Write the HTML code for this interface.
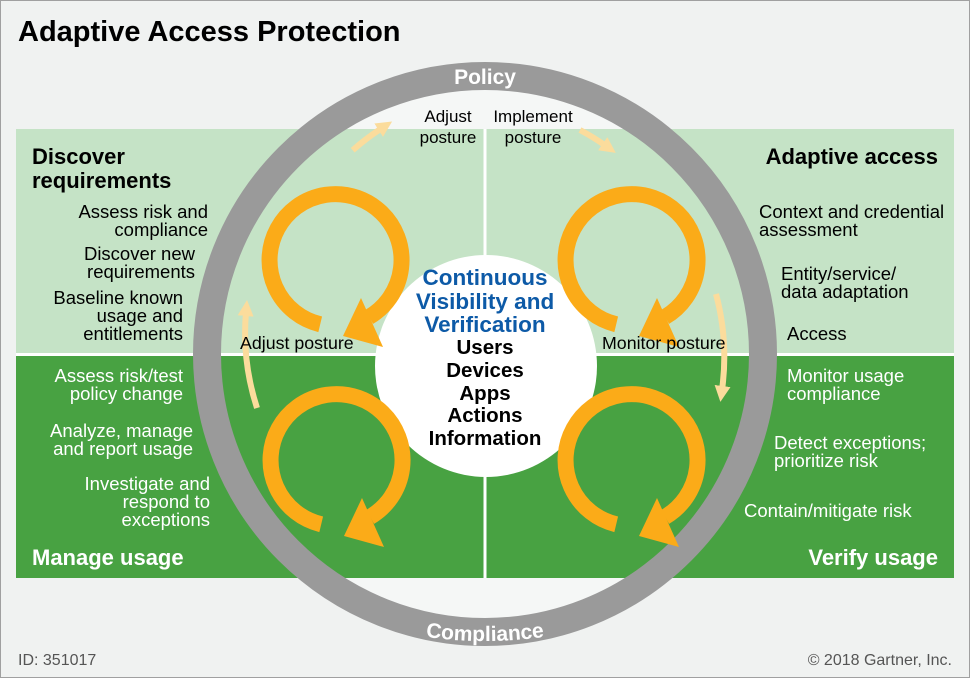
<!DOCTYPE html>
<html><head><meta charset="utf-8"><style>
html,body{margin:0;padding:0;background:#fff}
svg{display:block}
text{font-family:"Liberation Sans",Arial,sans-serif}
</style></head><body>
<svg width="970" height="678" viewBox="0 0 970 678" xmlns="http://www.w3.org/2000/svg">
<defs>
<marker id="pa" markerWidth="18" markerHeight="18" refX="4" refY="9" orient="auto" markerUnits="userSpaceOnUse">
<path d="M0,1 L16,9 L0,17 Z" fill="#fbdc9c"/>
</marker>
<path id="loop" d="M-14.8,64.3 A66,66 0 1 1 34,57" fill="none" stroke="#fbab18" stroke-width="16"/>
<g id="lp"><use href="#loop"/><path d="M8,76 L26,38 L48,87 Z" fill="#fbab18"/></g>
<path id="botArc" d="M360,622 A420,420 0 0 0 610,622"/>
</defs>
<rect x="0.5" y="0.5" width="969" height="677" fill="#f0f2f1" stroke="#a0a0a0"/>
<text x="18" y="41" font-size="29" font-weight="bold" fill="#000">Adaptive Access Protection</text>
<circle cx="485" cy="354" r="270" fill="#f5f7f6"/>
<rect x="16" y="129" width="938" height="224" fill="#c5e3c6"/>
<rect x="16" y="356" width="938" height="222" fill="#48a242"/>
<rect x="16" y="353" width="938" height="3" fill="#fff"/>
<rect x="483.5" y="129" width="3" height="449" fill="#fff"/>
<circle cx="485" cy="354" r="278" fill="none" stroke="#9a9a9a" stroke-width="28"/>
<text x="485" y="84" font-size="21" font-weight="bold" fill="#fff" text-anchor="middle">Policy</text>
<text font-size="21" font-weight="bold" fill="#fff"><textPath href="#botArc" startOffset="50%" text-anchor="middle">Compliance</textPath></text>
<circle cx="486" cy="366" r="111" fill="#fff"/>
<use href="#lp" x="335" y="260"/>
<use href="#lp" x="631" y="260"/>
<use href="#lp" x="336" y="460"/>
<use href="#lp" x="631" y="460"/>
<g fill="none" stroke="#fbdc9c" stroke-width="6">
<path d="M352.7,150.2 A243,243 0 0 1 382,128" marker-end="url(#pa)"/>
<path d="M580,130 A243,243 0 0 1 606,146" marker-end="url(#pa)"/>
<path d="M716,294 A243,243 0 0 1 722,390" marker-end="url(#pa)"/>
<path d="M257,408 A243,243 0 0 1 246,312" marker-end="url(#pa)"/>
</g>
<g font-size="17" fill="#000">
<text x="448" y="122" text-anchor="middle">Adjust</text>
<text x="448" y="143" text-anchor="middle">posture</text>
<text x="533" y="122" text-anchor="middle">Implement</text>
<text x="533" y="143" text-anchor="middle">posture</text>
<text x="240" y="349" font-size="17.8">Adjust posture</text>
<text x="602" y="349" font-size="17.8">Monitor posture</text>
</g>
<g font-size="22.5" font-weight="bold" fill="#0d5aa7" text-anchor="middle">
<text x="485" y="285">Continuous</text>
<text x="485" y="309">Visibility and</text>
<text x="485" y="332">Verification</text>
</g>
<g font-size="20.5" font-weight="bold" fill="#000" text-anchor="middle">
<text x="485" y="354">Users</text>
<text x="485" y="377">Devices</text>
<text x="485" y="400">Apps</text>
<text x="485" y="422">Actions</text>
<text x="485" y="445">Information</text>
</g>
<g font-size="22" font-weight="bold">
<text x="32" y="164">Discover</text>
<text x="32" y="188">requirements</text>
<text x="938" y="164" text-anchor="end">Adaptive access</text>
<text x="32" y="565" fill="#fff">Manage usage</text>
<text x="938" y="565" fill="#fff" text-anchor="end">Verify usage</text>
</g>
<g font-size="18.5" fill="#000" text-anchor="end">
<text x="208" y="218">Assess risk and</text>
<text x="208" y="236">compliance</text>
<text x="195" y="260">Discover new</text>
<text x="195" y="278">requirements</text>
<text x="183" y="304">Baseline known</text>
<text x="183" y="322">usage and</text>
<text x="183" y="340">entitlements</text>
</g>
<g font-size="18.5" fill="#fff" text-anchor="end">
<text x="183" y="382">Assess risk/test</text>
<text x="183" y="400">policy change</text>
<text x="193" y="437">Analyze, manage</text>
<text x="193" y="455">and report usage</text>
<text x="210" y="490">Investigate and</text>
<text x="210" y="508">respond to</text>
<text x="210" y="526">exceptions</text>
</g>
<g font-size="18.5" fill="#000">
<text x="759" y="218">Context and credential</text>
<text x="759" y="236">assessment</text>
<text x="781" y="280">Entity/service/</text>
<text x="781" y="298">data adaptation</text>
<text x="787" y="340">Access</text>
</g>
<g font-size="18.5" fill="#fff">
<text x="787" y="382">Monitor usage</text>
<text x="787" y="400">compliance</text>
<text x="774" y="449">Detect exceptions;</text>
<text x="774" y="467">prioritize risk</text>
<text x="744" y="517">Contain/mitigate risk</text>
</g>
<text x="18" y="665" font-size="16" fill="#555">ID: 351017</text>
<text x="952" y="665" font-size="16" fill="#555" text-anchor="end">© 2018 Gartner, Inc.</text>
</svg>
</body></html>
